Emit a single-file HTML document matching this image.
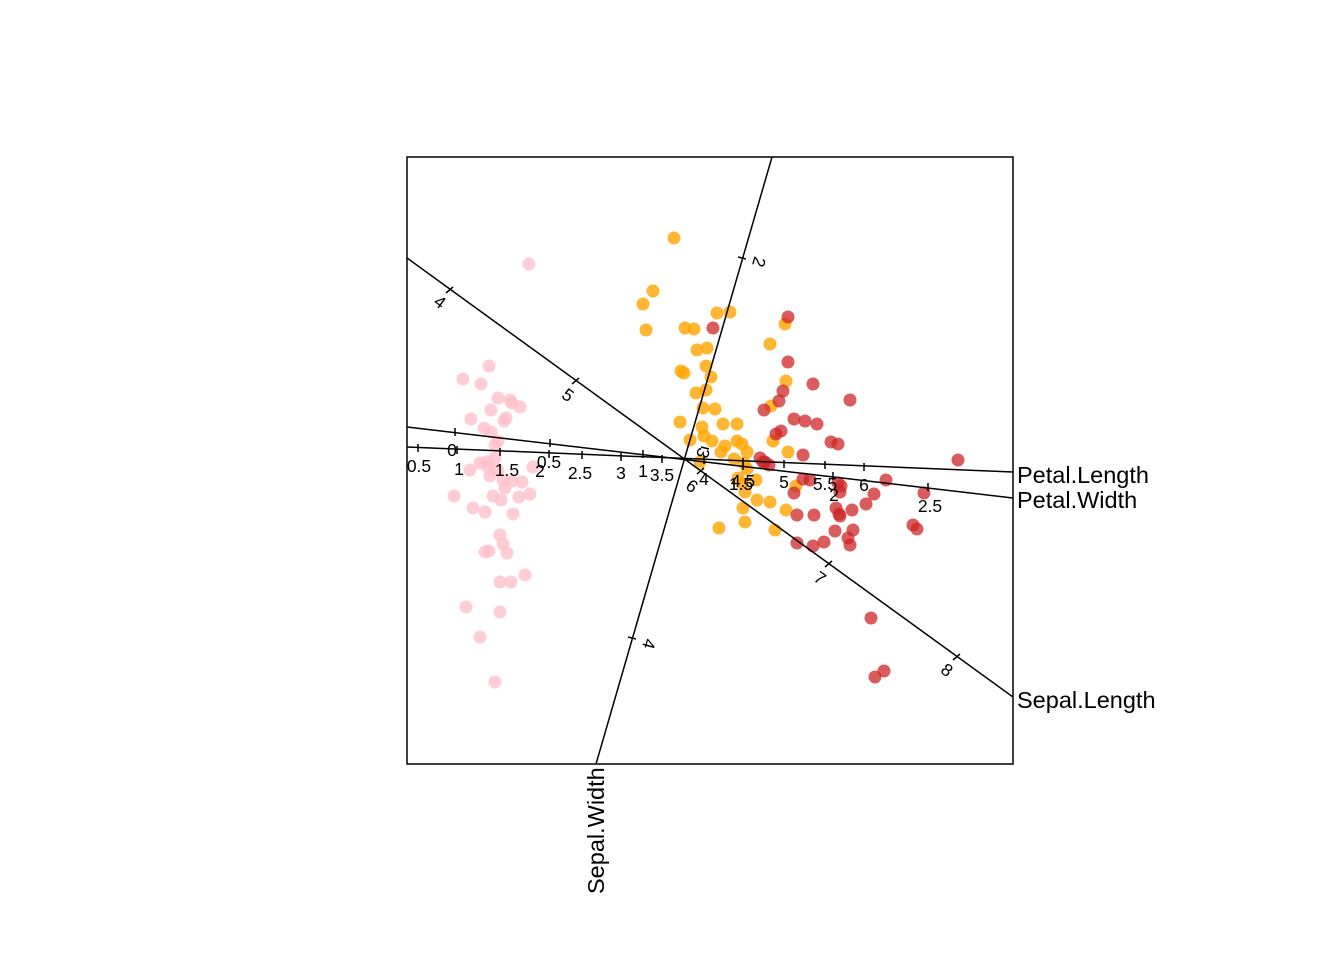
<!DOCTYPE html>
<html><head><meta charset="utf-8"><style>html,body{margin:0;padding:0;background:#fff}svg{display:block}</style></head>
<body>
<svg width="1344" height="960" xmlns="http://www.w3.org/2000/svg" font-family="Liberation Sans, Arial, sans-serif">
<defs><clipPath id="c"><rect x="407" y="157" width="606" height="607"/></clipPath></defs>
<g clip-path="url(#c)">
<g fill="#FFC0CB" fill-opacity="0.8">
<circle cx="529" cy="264" r="6.5"/><circle cx="489" cy="366" r="6.5"/><circle cx="463" cy="379" r="6.5"/><circle cx="481" cy="384" r="6.5"/><circle cx="498" cy="398" r="6.5"/><circle cx="510" cy="400" r="6.5"/><circle cx="512" cy="403" r="6.5"/><circle cx="491" cy="410" r="6.5"/><circle cx="520" cy="407" r="6.5"/><circle cx="471" cy="419" r="6.5"/><circle cx="506" cy="418" r="6.5"/><circle cx="504" cy="421" r="6.5"/><circle cx="484" cy="428" r="6.5"/><circle cx="491" cy="432" r="6.5"/><circle cx="498" cy="441" r="6.5"/><circle cx="480" cy="463" r="6.5"/><circle cx="487" cy="462" r="6.5"/><circle cx="495" cy="458" r="6.5"/><circle cx="498" cy="470" r="6.5"/><circle cx="490" cy="476" r="6.5"/><circle cx="503" cy="480" r="6.5"/><circle cx="512" cy="481" r="6.5"/><circle cx="488" cy="467" r="6.5"/><circle cx="533" cy="467" r="6.5"/><circle cx="522" cy="482" r="6.5"/><circle cx="454" cy="496" r="6.5"/><circle cx="530" cy="494" r="6.5"/><circle cx="519" cy="497" r="6.5"/><circle cx="493" cy="496" r="6.5"/><circle cx="501" cy="500" r="6.5"/><circle cx="473" cy="508" r="6.5"/><circle cx="485" cy="512" r="6.5"/><circle cx="513" cy="514" r="6.5"/><circle cx="500" cy="535" r="6.5"/><circle cx="503" cy="544" r="6.5"/><circle cx="489" cy="551" r="6.5"/><circle cx="485" cy="552" r="6.5"/><circle cx="507" cy="553" r="6.5"/><circle cx="525" cy="575" r="6.5"/><circle cx="500" cy="582" r="6.5"/><circle cx="511" cy="582" r="6.5"/><circle cx="466" cy="607" r="6.5"/><circle cx="500" cy="612" r="6.5"/><circle cx="480" cy="637" r="6.5"/><circle cx="495" cy="682" r="6.5"/><circle cx="470" cy="470" r="6.5"/><circle cx="505" cy="488" r="6.5"/><circle cx="495" cy="445" r="6.5"/>
</g>
<g fill="#FFA500" fill-opacity="0.8">
<circle cx="674" cy="238" r="6.5"/><circle cx="653" cy="291" r="6.5"/><circle cx="643" cy="304" r="6.5"/><circle cx="717" cy="313" r="6.5"/><circle cx="730" cy="312" r="6.5"/><circle cx="685" cy="328" r="6.5"/><circle cx="694" cy="329" r="6.5"/><circle cx="646" cy="330" r="6.5"/><circle cx="707" cy="348" r="6.5"/><circle cx="697" cy="350" r="6.5"/><circle cx="770" cy="344" r="6.5"/><circle cx="706" cy="366" r="6.5"/><circle cx="681" cy="371" r="6.5"/><circle cx="684" cy="373" r="6.5"/><circle cx="785" cy="324" r="6.5"/><circle cx="706" cy="390" r="6.5"/><circle cx="711" cy="377" r="6.5"/><circle cx="696" cy="393" r="6.5"/><circle cx="786" cy="381" r="6.5"/><circle cx="703" cy="408" r="6.5"/><circle cx="715" cy="409" r="6.5"/><circle cx="771" cy="406" r="6.5"/><circle cx="680" cy="422" r="6.5"/><circle cx="723" cy="424" r="6.5"/><circle cx="737" cy="424" r="6.5"/><circle cx="702" cy="427" r="6.5"/><circle cx="690" cy="440" r="6.5"/><circle cx="712" cy="441" r="6.5"/><circle cx="704" cy="436" r="6.5"/><circle cx="737" cy="441" r="6.5"/><circle cx="742" cy="444" r="6.5"/><circle cx="773" cy="441" r="6.5"/><circle cx="747" cy="452" r="6.5"/><circle cx="721" cy="452" r="6.5"/><circle cx="788" cy="452" r="6.5"/><circle cx="734" cy="459" r="6.5"/><circle cx="744" cy="463" r="6.5"/><circle cx="747" cy="469" r="6.5"/><circle cx="756" cy="480" r="6.5"/><circle cx="742" cy="483" r="6.5"/><circle cx="738" cy="478" r="6.5"/><circle cx="745" cy="492" r="6.5"/><circle cx="757" cy="500" r="6.5"/><circle cx="770" cy="502" r="6.5"/><circle cx="743" cy="508" r="6.5"/><circle cx="786" cy="510" r="6.5"/><circle cx="796" cy="486" r="6.5"/><circle cx="719" cy="528" r="6.5"/><circle cx="745" cy="522" r="6.5"/><circle cx="775" cy="530" r="6.5"/><circle cx="700" cy="462" r="6.5"/><circle cx="725" cy="446" r="6.5"/>
</g>
<g fill="#CD2626" fill-opacity="0.75">
<circle cx="788" cy="317" r="6.5"/><circle cx="713" cy="328" r="6.5"/><circle cx="788" cy="362" r="6.5"/><circle cx="813" cy="384" r="6.5"/><circle cx="783" cy="391" r="6.5"/><circle cx="779" cy="401" r="6.5"/><circle cx="764" cy="410" r="6.5"/><circle cx="850" cy="400" r="6.5"/><circle cx="794" cy="419" r="6.5"/><circle cx="805" cy="421" r="6.5"/><circle cx="817" cy="424" r="6.5"/><circle cx="776" cy="434" r="6.5"/><circle cx="781" cy="431" r="6.5"/><circle cx="831" cy="442" r="6.5"/><circle cx="838" cy="444" r="6.5"/><circle cx="958" cy="460" r="6.5"/><circle cx="760" cy="458" r="6.5"/><circle cx="765" cy="462" r="6.5"/><circle cx="769" cy="465" r="6.5"/><circle cx="803" cy="455" r="6.5"/><circle cx="803" cy="479" r="6.5"/><circle cx="810" cy="480" r="6.5"/><circle cx="838" cy="483" r="6.5"/><circle cx="886" cy="480" r="6.5"/><circle cx="924" cy="493" r="6.5"/><circle cx="840" cy="492" r="6.5"/><circle cx="874" cy="494" r="6.5"/><circle cx="794" cy="493" r="6.5"/><circle cx="866" cy="504" r="6.5"/><circle cx="852" cy="510" r="6.5"/><circle cx="839" cy="514" r="6.5"/><circle cx="836" cy="508" r="6.5"/><circle cx="814" cy="515" r="6.5"/><circle cx="840" cy="516" r="6.5"/><circle cx="797" cy="515" r="6.5"/><circle cx="913" cy="525" r="6.5"/><circle cx="917" cy="529" r="6.5"/><circle cx="835" cy="531" r="6.5"/><circle cx="853" cy="530" r="6.5"/><circle cx="848" cy="538" r="6.5"/><circle cx="850" cy="545" r="6.5"/><circle cx="797" cy="543" r="6.5"/><circle cx="824" cy="542" r="6.5"/><circle cx="813" cy="546" r="6.5"/><circle cx="871" cy="618" r="6.5"/><circle cx="884" cy="671" r="6.5"/><circle cx="875" cy="677" r="6.5"/><circle cx="763" cy="462" r="6.5"/><circle cx="841" cy="486" r="6.5"/>
</g>
<g stroke="#000" stroke-width="1.5" fill="none">
<line x1="407" y1="447" x2="1013" y2="472"/>
<line x1="407" y1="427" x2="1013" y2="498"/>
<line x1="407" y1="258" x2="1013" y2="697"/>
<line x1="772" y1="157" x2="596" y2="764"/>
<path d="M418,444v8M457,446v8M500,448v8M549,450v8M582,451v8M621,453v8M662,455v8M704,456v8M743,458v8M784,460v8M825,461v8M864,463v8"/>
<path d="M455,428v8M550,439v8M643,450v8M743,462v8M833,472v8M928,483v8"/>
<path d="M446,293l7,-6M572,384l7,-6M697,474l7,-6M825,567l7,-6M953,660l7,-6"/>
<path d="M738,257l8,2M701,447l8,2M628,637l8,2"/>
</g>
</g>
<rect x="407" y="157" width="606" height="607" fill="none" stroke="#000" stroke-width="1.5"/>
<g font-size="17.5" fill="#000" text-anchor="middle">
<text x="419" y="472">0.5</text><text x="459" y="475">1</text><text x="507" y="476">1.5</text><text x="540" y="477">2</text><text x="580" y="479">2.5</text><text x="621" y="479">3</text><text x="662" y="481">3.5</text><text x="704" y="485">4</text><text x="743" y="487">4.5</text><text x="784" y="488">5</text><text x="825" y="490">5.5</text><text x="864" y="491">6</text>
<text x="452" y="456">0</text><text x="549" y="468">0.5</text><text x="643" y="477">1</text><text x="741" y="490">1.5</text><text x="834" y="501">2</text><text x="930" y="512">2.5</text>
<text transform="translate(440,302) rotate(36)" y="6">4</text><text transform="translate(568,395) rotate(36)" y="6">5</text><text transform="translate(692,486) rotate(36)" y="6">6</text><text transform="translate(820,578) rotate(36)" y="6">7</text><text transform="translate(947,670) rotate(36)" y="6">8</text>
<text transform="translate(759,262) rotate(106)" y="6">2</text><text transform="translate(703,453) rotate(106)" y="6">3</text><text transform="translate(649,644) rotate(106)" y="6">4</text>
</g>
<g font-size="23.5" fill="#000">
<text x="1017" y="483">Petal.Length</text>
<text x="1017" y="508">Petal.Width</text>
<text x="1017" y="708">Sepal.Length</text>
<text transform="translate(604,894) rotate(-90)">Sepal.Width</text>
</g>
</svg>
</body></html>
